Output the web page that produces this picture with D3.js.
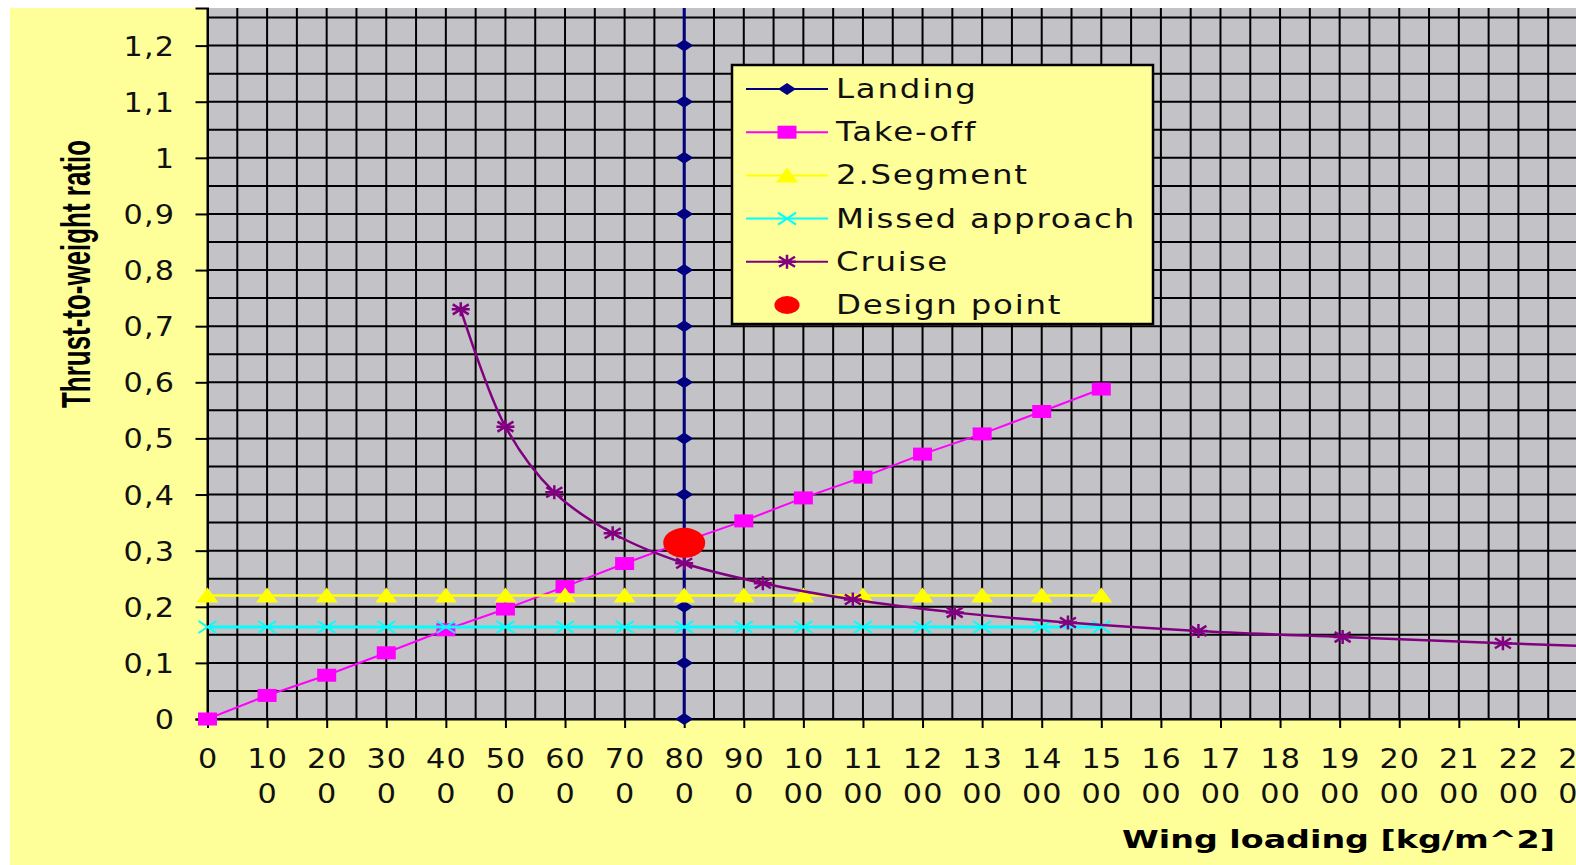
<!DOCTYPE html>
<html>
<head>
<meta charset="utf-8">
<script src="https://cdn.jsdelivr.net/npm/d3@7"></script>
<style>
    body { margin: 0; background: #fff; }
    svg { display: block; }
    .tick-label { font-family: "DejaVu Sans", sans-serif; font-size: 27px; letter-spacing: 1px; fill: #111; }
    .legend-label { font-family: "DejaVu Sans", sans-serif; font-size: 27px; letter-spacing: 1.5px; fill: #111; }
</style>
</head>
<body>
<div id="chart"></div>
<script>
// axis ticks
const xTickValues = [0, 100, 200, 300, 400, 500, 600, 700, 800, 900, 1000, 1100, 1200, 1300, 1400, 1500, 1600, 1700, 1800, 1900, 2000, 2100, 2200, 2300];
const yTickValues = [0, 0.1, 0.2, 0.3, 0.4, 0.5, 0.6, 0.7, 0.8, 0.9, 1, 1.1, 1.2];
const yTickLabels = ["0", "0,1", "0,2", "0,3", "0,4", "0,5", "0,6", "0,7", "0,8", "0,9", "1", "1,1", "1,2"];

// series
const landingX = [800, 800, 800, 800, 800, 800, 800, 800, 800, 800, 800, 800, 800, 800];
const landingY = [0, 0.1, 0.2, 0.3, 0.4, 0.5, 0.6, 0.7, 0.8, 0.9, 1, 1.1, 1.2, 1.3];

const takeoffX = [0, 100, 200, 300, 400, 500, 600, 700, 800, 900, 1000, 1100, 1200, 1300, 1400, 1500];
const takeoffY = [0, 0.042, 0.078, 0.118, 0.159, 0.196, 0.236, 0.277, 0.316, 0.353, 0.394, 0.431, 0.472, 0.508, 0.548, 0.588];

const segmentX = [0, 100, 200, 300, 400, 500, 600, 700, 800, 900, 1000, 1100, 1200, 1300, 1400, 1500];
const segmentY = [0.22, 0.22, 0.22, 0.22, 0.22, 0.22, 0.22, 0.22, 0.22, 0.22, 0.22, 0.22, 0.22, 0.22, 0.22, 0.22];

const missedX = [0, 100, 200, 300, 400, 500, 600, 700, 800, 900, 1000, 1100, 1200, 1300, 1400, 1500];
const missedY = [0.164, 0.164, 0.164, 0.164, 0.164, 0.164, 0.164, 0.164, 0.164, 0.164, 0.164, 0.164, 0.164, 0.164, 0.164, 0.164];

const cruiseX = [425, 500, 582, 680, 800, 932, 1083, 1254, 1444, 1663, 1905, 2174, 2470];
const cruiseY = [0.730, 0.521, 0.404, 0.331, 0.2775, 0.242, 0.213, 0.190, 0.172, 0.157, 0.146, 0.135, 0.124];

const designX = [800];
const designY = [0.314];

const legendNames = ["Landing", "Take-off", "2.Segment", "Missed approach", "Cruise", "Design point"];

const width = 1576, height = 865;
const plot = { left: 207.5, right: 1578, top: 8, bottom: 719 };

const svg = d3.select("#chart").append("svg")
    .attr("width", width)
    .attr("height", height);

// backgrounds
svg.append("rect").attr("width", width).attr("height", height).attr("fill", "#fff");
svg.append("rect").attr("x", 10).attr("y", 8).attr("width", width - 10).attr("height", height - 8).attr("fill", "#FFFF99");

const x = d3.scaleLinear().domain([0, 2300]).range([plot.left, plot.right]);
const y = d3.scaleLinear().domain([0, 1.267]).range([plot.bottom, plot.top]);

svg.append("rect")
    .attr("x", plot.left).attr("y", plot.top)
    .attr("width", plot.right - plot.left).attr("height", plot.bottom - plot.top)
    .attr("fill", "#C3C2C6");

svg.append("defs").append("clipPath").attr("id", "plot-clip")
    .append("rect")
    .attr("x", plot.left).attr("y", plot.top)
    .attr("width", plot.right - plot.left).attr("height", plot.bottom - plot.top);

// grid: every 50 on x, every 0.05 on y
const grid = svg.append("g").attr("class", "grid");
grid.selectAll(".vgrid").data(d3.range(0, 2350, 50)).enter().append("line")
    .attr("x1", d => x(d)).attr("x2", d => x(d))
    .attr("y1", plot.top).attr("y2", plot.bottom)
    .attr("stroke", "#000").attr("stroke-width", 2);
grid.selectAll(".hgrid").data(d3.range(0, 1.26, 0.05)).enter().append("line")
    .attr("x1", plot.left).attr("x2", plot.right)
    .attr("y1", d => y(d)).attr("y2", d => y(d))
    .attr("stroke", "#000").attr("stroke-width", 2);

// axes
const xAxis = svg.append("g")
    .attr("transform", "translate(0," + plot.bottom + ")")
    .call(d3.axisBottom(x).tickValues(xTickValues).tickSize(9).tickFormat(""));
const yAxis = svg.append("g")
    .attr("transform", "translate(" + plot.left + ",0)")
    .call(d3.axisLeft(y).tickValues(yTickValues).tickSize(12).tickFormat(""));
[xAxis, yAxis].forEach(a => {
    a.select(".domain").attr("stroke", "#000").attr("stroke-width", 2);
    a.selectAll(".tick line").attr("stroke", "#000").attr("stroke-width", 2);
});

// wide bitmap-like text: scale glyphs horizontally
function wideText(parent, cls, tx, ty, sx, anchor, str) {
    return parent.append("text").attr("class", cls)
        .attr("transform", "translate(" + tx + "," + ty + ") scale(" + sx + ",1)")
        .attr("text-anchor", anchor)
        .text(str);
}

// x tick labels wrapped like the original (two chars, then the rest)
const xl = svg.append("g");
xTickValues.forEach(v => {
    const s = String(v);
    wideText(xl, "tick-label", x(v) + 0.6, 768, 1.12, "middle", s.slice(0, 2));
    if (s.length > 2) {
        wideText(xl, "tick-label", x(v) + 0.6, 803, 1.12, "middle", s.slice(2));
    }
});

const yl = svg.append("g");
yTickValues.forEach((v, i) => {
    wideText(yl, "tick-label", 175, y(v) + 10, 1.12, "end", yTickLabels[i]);
});

// axis titles
svg.append("text")
    .attr("transform", "translate(90,274) rotate(-90)")
    .attr("text-anchor", "middle")
    .attr("font-family", "Liberation Sans, Arial, sans-serif")
    .attr("font-weight", "bold")
    .attr("font-size", 40)
    .attr("textLength", 268)
    .attr("lengthAdjust", "spacingAndGlyphs")
    .text("Thrust-to-weight ratio");

svg.append("text")
    .attr("x", 1122).attr("y", 848)
    .attr("font-family", "DejaVu Sans, sans-serif")
    .attr("font-weight", "bold")
    .attr("font-size", 25)
    .attr("textLength", 433)
    .attr("lengthAdjust", "spacingAndGlyphs")
    .text("Wing loading [kg/m^2]");

// marker shapes
const markers = {
    diamond: sel => sel.append("path").attr("d", "M-9,0L0,-6L9,0L0,6Z").attr("fill", "#000080"),
    square: sel => sel.append("rect").attr("x", -9.5).attr("y", -6.5).attr("width", 19).attr("height", 13).attr("fill", "#FF00FF"),
    triangle: sel => sel.append("path").attr("d", "M-11,7L0,-8L11,7Z").attr("fill", "#FFFF00"),
    cross: sel => sel.append("path").attr("d", "M-9,-6L9,6M-9,6L9,-6").attr("stroke", "#00FFFF").attr("stroke-width", 2).attr("fill", "none"),
    star: sel => sel.append("path").attr("d", "M-8,-5L8,5M-8,5L8,-5M0,-7L0,7M-9,0L9,0").attr("stroke", "#800080").attr("stroke-width", 2.5).attr("fill", "none"),
    dot: sel => sel.append("ellipse").attr("rx", 21).attr("ry", 15).attr("fill", "#FF0000")
};

const seriesList = [
    { xs: landingX, ys: landingY, color: "#000080", width: 3, marker: "diamond", curve: d3.curveLinear },
    { xs: takeoffX, ys: takeoffY, color: "#FF00FF", width: 2, marker: "square", curve: d3.curveLinear },
    { xs: segmentX, ys: segmentY, color: "#FFFF00", width: 2.5, marker: "triangle", curve: d3.curveLinear },
    { xs: missedX, ys: missedY, color: "#00FFFF", width: 3, marker: "cross", curve: d3.curveLinear },
    { xs: cruiseX, ys: cruiseY, color: "#800080", width: 2.5, marker: "star", curve: d3.curveCatmullRom.alpha(0.5) },
    { xs: designX, ys: designY, color: "#FF0000", width: 0, marker: "dot", curve: null }
];

const chart = svg.append("g").attr("class", "chartContainer");
seriesList.forEach(s => {
    const pts = s.xs.map((v, i) => ({ x: v, y: s.ys[i] }));
    if (s.curve) {
        const line = d3.line().curve(s.curve).x(d => x(d.x)).y(d => y(d.y));
        chart.append("path")
            .attr("clip-path", "url(#plot-clip)")
            .attr("d", line(pts))
            .attr("fill", "none")
            .attr("stroke", s.color)
            .attr("stroke-width", s.width);
    }
    pts.filter(d => d.y <= 1.267 && d.x <= 2300).forEach(d => {
        const g = chart.append("g").attr("transform", "translate(" + x(d.x) + "," + y(d.y) + ")");
        markers[s.marker](g);
    });
});

// legend
const legend = svg.append("g").attr("transform", "translate(732,65)");
legend.append("rect")
    .attr("width", 421).attr("height", 259)
    .attr("fill", "#FFFF99").attr("stroke", "#000").attr("stroke-width", 2.5);
seriesList.forEach((s, i) => {
    const row = legend.append("g").attr("transform", "translate(0," + (24 + i * 43.2) + ")");
    if (s.curve) {
        row.append("line").attr("x1", 14).attr("x2", 96).attr("y1", 0).attr("y2", 0)
            .attr("stroke", s.color).attr("stroke-width", 2);
    }
    const m = row.append("g").attr("transform", "translate(55,0)" + (s.marker === "dot" ? " scale(0.6)" : ""));
    markers[s.marker](m);
    wideText(row, "legend-label", 104, 9, 1.2, "start", legendNames[i]);
});
</script>
</body>
</html>
